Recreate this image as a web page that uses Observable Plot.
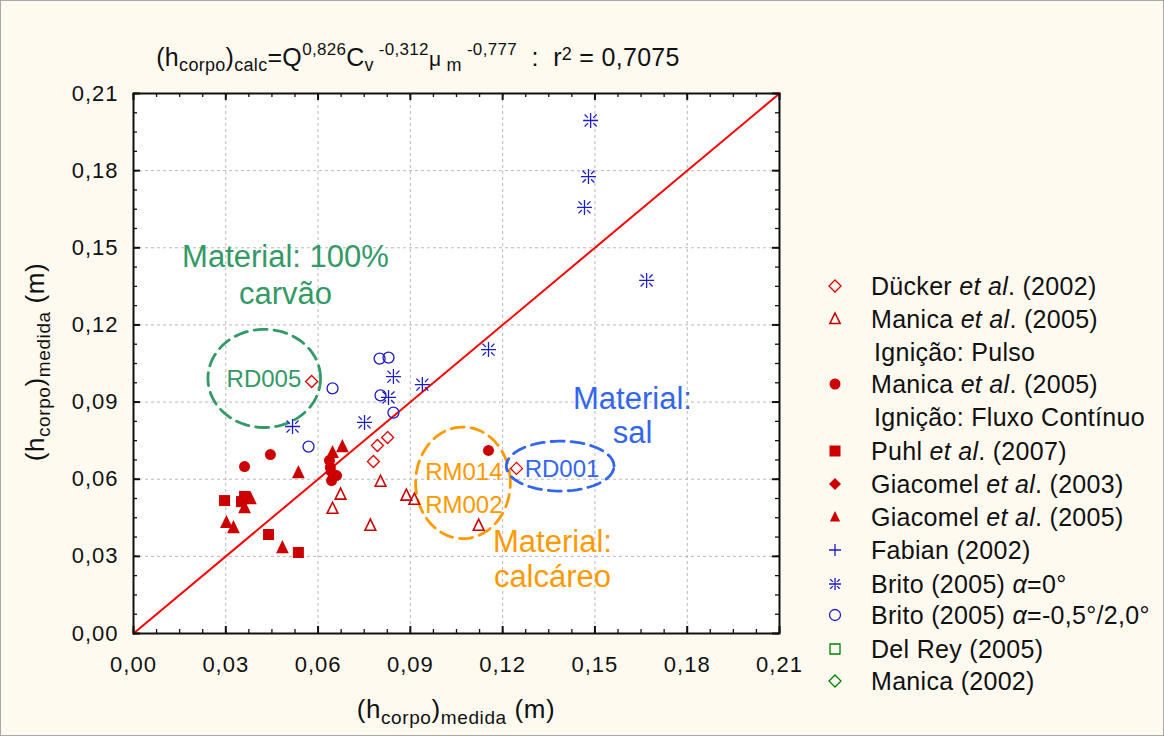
<!DOCTYPE html>
<html>
<head>
<meta charset="utf-8">
<script src="https://cdn.jsdelivr.net/npm/d3@7"></script>
<script src="https://cdn.jsdelivr.net/npm/@observablehq/plot@0.6"></script>
<style>
html,body{margin:0;padding:0;background:#fffaf0;}
#wrap{position:relative;width:1164px;height:736px;overflow:hidden;font-family:"Liberation Sans",Arial,sans-serif;}
#border{position:absolute;left:0;top:0;width:1164px;height:736px;box-sizing:border-box;border:1px solid #a8a8a8;pointer-events:none;}
</style>
</head>
<body>
<div id="wrap"><div id="border"></div></div>
<script>
// ---------------- data ----------------
const xTicks = [0, 0.03, 0.06, 0.09, 0.12, 0.15, 0.18, 0.21];
const yTicks = [0, 0.03, 0.06, 0.09, 0.12, 0.15, 0.18, 0.21];
const identityLine = [0, 0.21];

// Dücker et al. (2002) - open red diamond
const duckerX = [0.0579, 0.0826, 0.0793, 0.0780, 0.1245];
const duckerY = [0.0980, 0.0762, 0.0731, 0.0669, 0.0642];
// Manica et al. (2005) Ignição: Pulso - open red triangle
const manicaPX = [0.0803, 0.0673, 0.0647, 0.0770, 0.0887, 0.0913, 0.1122];
const manicaPY = [0.0591, 0.0541, 0.0486, 0.0420, 0.0537, 0.0521, 0.0420];
// Manica et al. (2005) Ignição: Fluxo Contínuo - filled red circle
const manicaCX = [0.0361, 0.0445, 0.0637, 0.0640, 0.0644, 0.0660, 0.1154];
const manicaCY = [0.0649, 0.0696, 0.0673, 0.0646, 0.0595, 0.0614, 0.0712];
// Puhl et al. (2007) - filled red square
const puhlX = [0.0296, 0.0351, 0.0361, 0.0439, 0.0536];
const puhlY = [0.0517, 0.0513, 0.0533, 0.0385, 0.0315];
// Giacomel et al. (2003) - filled red diamond
const giac03X = [0.0644];
const giac03Y = [0.0626];
// Giacomel et al. (2005) - filled red triangle
const giac05X = [0.0380, 0.0361, 0.0302, 0.0325, 0.0484, 0.0536, 0.0647, 0.0679];
const giac05Y = [0.0525, 0.0490, 0.0432, 0.0412, 0.0334, 0.0626, 0.0704, 0.0727];
// Fabian (2002) - blue plus (no points visible)
const fabianX = [];
const fabianY = [];
// Brito (2005) alpha=0 - blue asterisk
const brito0X = [0.1486, 0.1479, 0.1466, 0.1668, 0.1154, 0.0845, 0.0939, 0.0751, 0.0517, 0.0829];
const brito0Y = [0.1995, 0.1777, 0.1657, 0.1373, 0.1104, 0.0999, 0.0968, 0.0821, 0.0805, 0.0918];
// Brito (2005) alpha=-0.5/2.0 - open blue circle
const brito2X = [0.0800, 0.0829, 0.0647, 0.0803, 0.0845, 0.0569];
const brito2Y = [0.1069, 0.1073, 0.0953, 0.0926, 0.0859, 0.0727];
// Del Rey (2005), Manica (2002) - no points visible
const delReyX = [], delReyY = [];
const manica02X = [], manica02Y = [];

// annotation ellipses (data units)
const ellipseCX = [0.0425, 0.1071, 0.1387];
const ellipseCY = [0.0992, 0.0586, 0.0651];
const ellipseRX = [0.0183, 0.0154, 0.0175];
const ellipseRY = [0.0191, 0.0217, 0.0097];
const ellipseColor = ["#339966", "#ff9900", "#3366ee"];

// annotation texts
const labelText = ["RD005", "RM014", "RM002", "RD001"];
const labelX = [0.0424, 0.1074, 0.1074, 0.1393];
const labelY = [0.0987, 0.0625, 0.0500, 0.0637];
const labelColor = ["#339966", "#ff9900", "#ff9900", "#3366ee"];

const bigText = ["Material: 100%", "carvão", "Material:", "sal", "Material:", "calcáreo"];
const bigX = [0.0494, 0.0494, 0.1622, 0.1622, 0.1362, 0.1362];
const bigY = [0.1464, 0.1320, 0.0912, 0.0780, 0.0356, 0.0220];
const bigColor = ["#339966", "#339966", "#3366ee", "#3366ee", "#ff9900", "#ff9900"];

// ---------------- symbols ----------------
const FONT = '"Liberation Sans", Arial, sans-serif';
function sym(fn){ return {draw(c, size){ fn(c, Math.sqrt(size / Math.PI)); }}; }
const diamondS = sym((c,r)=>{c.moveTo(0,-r);c.lineTo(r,0);c.lineTo(0,r);c.lineTo(-r,0);c.closePath();});
const triS = sym((c,r)=>{c.moveTo(0,-r);c.lineTo(r*0.85,r*0.75);c.lineTo(-r*0.85,r*0.75);c.closePath();});
const squareS = sym((c,r)=>{c.moveTo(-r,-r);c.lineTo(r,-r);c.lineTo(r,r);c.lineTo(-r,r);c.closePath();});
const circleS = sym((c,r)=>{c.moveTo(r,0);c.arc(0,0,r,0,2*Math.PI);});
const plusS = sym((c,r)=>{c.moveTo(-r,0);c.lineTo(r,0);c.moveTo(0,-r);c.lineTo(0,r);});
const astS = sym((c,r)=>{
  c.moveTo(-r,0);c.lineTo(r,0);c.moveTo(0,-r);c.lineTo(0,r);
  const a=r*0.35,b=r*0.8;
  for (const [sx,sy] of [[1,1],[1,-1],[-1,1],[-1,-1]]){c.moveTo(sx*a,sy*a);c.lineTo(sx*b,sy*b);}
});

const RED = "#cc0000", ORED = "#e00000", BLUE = "#1c1cc8", GREEN = "#008000";
const series = [
  {name:"Dücker", X:duckerX, Y:duckerY, symbol:diamondS, r:6, fill:"none", stroke:ORED, sw:1.3},
  {name:"ManicaP", X:manicaPX, Y:manicaPY, symbol:triS, r:6.3, fill:"none", stroke:RED, sw:1.6},
  {name:"ManicaC", X:manicaCX, Y:manicaCY, symbol:circleS, r:5.5, fill:RED, stroke:"none", sw:0},
  {name:"Puhl", X:puhlX, Y:puhlY, symbol:squareS, r:5.5, fill:RED, stroke:"none", sw:0},
  {name:"Giac03", X:giac03X, Y:giac03Y, symbol:diamondS, r:7, fill:RED, stroke:"none", sw:0},
  {name:"Giac05", X:giac05X, Y:giac05Y, symbol:triS, r:7.5, fill:RED, stroke:"none", sw:0},
  {name:"Fabian", X:fabianX, Y:fabianY, symbol:plusS, r:7, fill:"none", stroke:BLUE, sw:1.3},
  {name:"Brito2", X:brito2X, Y:brito2Y, symbol:circleS, r:5.5, fill:"none", stroke:BLUE, sw:1.3},
  {name:"Brito0", X:brito0X, Y:brito0Y, symbol:astS, r:7.5, fill:"none", stroke:BLUE, sw:1.3},
  {name:"DelRey", X:delReyX, Y:delReyY, symbol:squareS, r:5, fill:"none", stroke:GREEN, sw:1.3},
  {name:"Manica02", X:manica02X, Y:manica02Y, symbol:diamondS, r:6, fill:"none", stroke:GREEN, sw:1.3}
];

// ---------------- plot ----------------
const W=1164, H=736, ML=133, MR=385, MT=93, MB=103;
const innerW = W-ML-MR, innerH = H-MT-MB;
const fmt = d => d.toFixed(2).replace(".", ",");
const minor = d3.range(0, 29).map(i => +(i*0.0075).toFixed(4));

const ellipsePts = ellipseCX.map((cx,i) => d3.range(0, 361, 4).map(a => ({
  x: cx + ellipseRX[i]*Math.cos(a*Math.PI/180),
  y: ellipseCY[i] + ellipseRY[i]*Math.sin(a*Math.PI/180)
})));

const labels = labelText.map((t,i)=>({t, x:labelX[i], y:labelY[i], c:labelColor[i]}));
const bigs = bigText.map((t,i)=>({t, x:bigX[i], y:bigY[i], c:bigColor[i]}));

const marks = [
  Plot.frame({fill:"white", stroke:"none"}),
  Plot.gridX(xTicks.slice(1,-1), {stroke:"#b8b8b8", strokeOpacity:1, strokeDasharray:"3,3"}),
  Plot.gridY(yTicks.slice(1,-1), {stroke:"#b8b8b8", strokeOpacity:1, strokeDasharray:"3,3"}),
  Plot.line(identityLine.map(v=>({x:v,y:v})), {x:"x", y:"y", stroke:"#ff0000", strokeWidth:2})
];
ellipsePts.forEach((pts,i)=>marks.push(Plot.line(pts, {x:"x", y:"y", stroke:ellipseColor[i], strokeWidth:2.8, strokeDasharray:"13,7"})));
marks.push(Plot.text(labels, {x:"x", y:"y", text:"t", fill:"c", fontSize:24, textAnchor:"middle"}));
marks.push(Plot.text(bigs, {x:"x", y:"y", text:"t", fill:"c", fontSize:31, textAnchor:"middle"}));
for (const s of series){
  const data = s.X.map((x,i)=>({x, y:s.Y[i]}));
  marks.push(Plot.dot(data, {x:"x", y:"y", symbol:s.symbol, r:s.r, fill:s.fill, stroke:s.stroke, strokeWidth:s.sw}));
}
marks.push(
  Plot.tickX(minor, {x:d=>d, insetTop:innerH-4, stroke:"#111", strokeWidth:1.3}),
  Plot.tickX(minor, {x:d=>d, insetBottom:innerH-4, stroke:"#111", strokeWidth:1.3}),
  Plot.tickX(xTicks, {x:d=>d, insetTop:innerH-7, stroke:"#111", strokeWidth:2}),
  Plot.tickX(xTicks, {x:d=>d, insetBottom:innerH-7, stroke:"#111", strokeWidth:2}),
  Plot.tickY(minor, {y:d=>d, insetRight:innerW-4, stroke:"#111", strokeWidth:1.3}),
  Plot.tickY(minor, {y:d=>d, insetLeft:innerW-4, stroke:"#111", strokeWidth:1.3}),
  Plot.tickY(yTicks, {y:d=>d, insetRight:innerW-7, stroke:"#111", strokeWidth:2}),
  Plot.tickY(yTicks, {y:d=>d, insetLeft:innerW-7, stroke:"#111", strokeWidth:2}),
  Plot.frame({stroke:"#111", strokeWidth:2}),
  Plot.axisX(xTicks, {tickSize:0, tickPadding:23, tickFormat:fmt, fontSize:22, label:null, fill:"#111"}),
  Plot.axisY(yTicks, {tickSize:0, tickPadding:15, tickFormat:fmt, fontSize:22, label:null, fill:"#111"})
);

const chart = Plot.plot({
  width:W, height:H, marginLeft:ML, marginRight:MR, marginTop:MT, marginBottom:MB,
  x:{domain:[0,0.21], label:null},
  y:{domain:[0,0.21], label:null},
  style:{background:"transparent", fontFamily:FONT, color:"#111", overflow:"visible"},
  marks
});
chart.style.position = "absolute";
chart.style.left = "0px";
chart.style.top = "0px";
d3.select(chart).selectAll("g[aria-label='x-axis tick label'] text, g[aria-label='y-axis tick label'] text")
  .style("letter-spacing","1px");
const wrap = document.getElementById("wrap");
wrap.insertBefore(chart, wrap.firstChild);

// ---------------- title, axis titles, legend (overlay) ----------------
const ov = d3.select("#wrap").append("svg")
  .attr("width", W).attr("height", H)
  .style("position","absolute").style("left","0px").style("top","0px")
  .style("pointer-events","none").style("font-family", FONT);

function rich(sel, segs, base){
  let cur = 0;
  for (const s of segs){
    const sh = s.shift || 0;
    const t = sel.append("tspan").attr("font-size", s.size || base).attr("dy", sh - cur).text(s.t);
    if (s.italic) t.attr("font-style","italic");
    cur = sh;
  }
}
const NB = "\u00a0";

// title
const title = ov.append("text").attr("x", 418).attr("y", 66).attr("text-anchor","middle").attr("fill","#111")
  .style("letter-spacing","0.3px");
rich(title, [
  {t:"(h"},{t:"corpo",size:18,shift:5},{t:")"},{t:"calc",size:18,shift:5},{t:"=Q"},
  {t:"0,826",size:17,shift:-11},{t:"C"},{t:"v",size:18,shift:5},{t:NB+"-0,312",size:17,shift:-11},
  {t:"μ",size:21},{t:NB+"m",size:18,shift:5},{t:NB+"-0,777",size:17,shift:-11},
  {t:NB+NB+":"+NB+NB+"r"},{t:"2",size:18,shift:-6},{t:NB+"="+NB+"0,7075"}
], 25);

// x axis title
const xt = ov.append("text").attr("x", 456).attr("y", 718).attr("text-anchor","middle").attr("fill","#111")
  .style("letter-spacing","0.6px");
rich(xt, [{t:"(h"},{t:"corpo",size:19,shift:6},{t:")"},{t:"medida",size:19,shift:6},{t:NB+"(m)"}], 26);

// y axis title
const yt = ov.append("text").attr("transform","translate(44,362) rotate(-90)").attr("text-anchor","middle").attr("fill","#111")
  .style("letter-spacing","0.6px");
rich(yt, [{t:"(h"},{t:"corpo",size:19,shift:6},{t:")"},{t:"medida",size:19,shift:6},{t:NB+"(m)"}], 26);

// legend
const legendRows = [
  {s:0, y:286, parts:[{t:"Dücker "},{t:"et al",italic:true},{t:". (2002)"}]},
  {s:1, y:319, parts:[{t:"Manica "},{t:"et al",italic:true},{t:". (2005)"}]},
  {s:-1, y:352, parts:[{t:"Ignição: Pulso"}]},
  {s:2, y:384, parts:[{t:"Manica "},{t:"et al",italic:true},{t:". (2005)"}]},
  {s:-1, y:417, parts:[{t:"Ignição: Fluxo Contínuo"}]},
  {s:3, y:451, parts:[{t:"Puhl "},{t:"et al",italic:true},{t:". (2007)"}]},
  {s:4, y:484, parts:[{t:"Giacomel "},{t:"et al",italic:true},{t:". (2003)"}]},
  {s:5, y:517, parts:[{t:"Giacomel "},{t:"et al",italic:true},{t:". (2005)"}]},
  {s:6, y:550, parts:[{t:"Fabian (2002)"}]},
  {s:8, y:584, parts:[{t:"Brito (2005) "},{t:"α",italic:true},{t:"=0°"}]},
  {s:7, y:615, parts:[{t:"Brito (2005) "},{t:"α",italic:true},{t:"=-0,5°/2,0°"}]},
  {s:9, y:649, parts:[{t:"Del Rey (2005)"}]},
  {s:10, y:681, parts:[{t:"Manica (2002)"}]}
];
const LFS = 25;
for (const row of legendRows){
  if (row.s >= 0){
    const s = series[row.s];
    const p = d3.path();
    const lr = Math.min(s.r, 6);
    s.symbol.draw(p, lr*lr*Math.PI);
    ov.append("path").attr("d", p.toString()).attr("transform", `translate(835,${row.y})`)
      .attr("fill", s.fill).attr("stroke", s.stroke).attr("stroke-width", s.sw || 0);
  }
  const t = ov.append("text").attr("x", row.s >= 0 ? 871 : 874).attr("y", row.y + LFS*0.36)
    .attr("fill","#111").attr("font-size", LFS).style("letter-spacing","0.3px");
  for (const part of row.parts){
    const ts = t.append("tspan").text(part.t.replace(/ /g, NB));
    if (part.italic) ts.attr("font-style","italic");
  }
}
</script>
</body>
</html>
